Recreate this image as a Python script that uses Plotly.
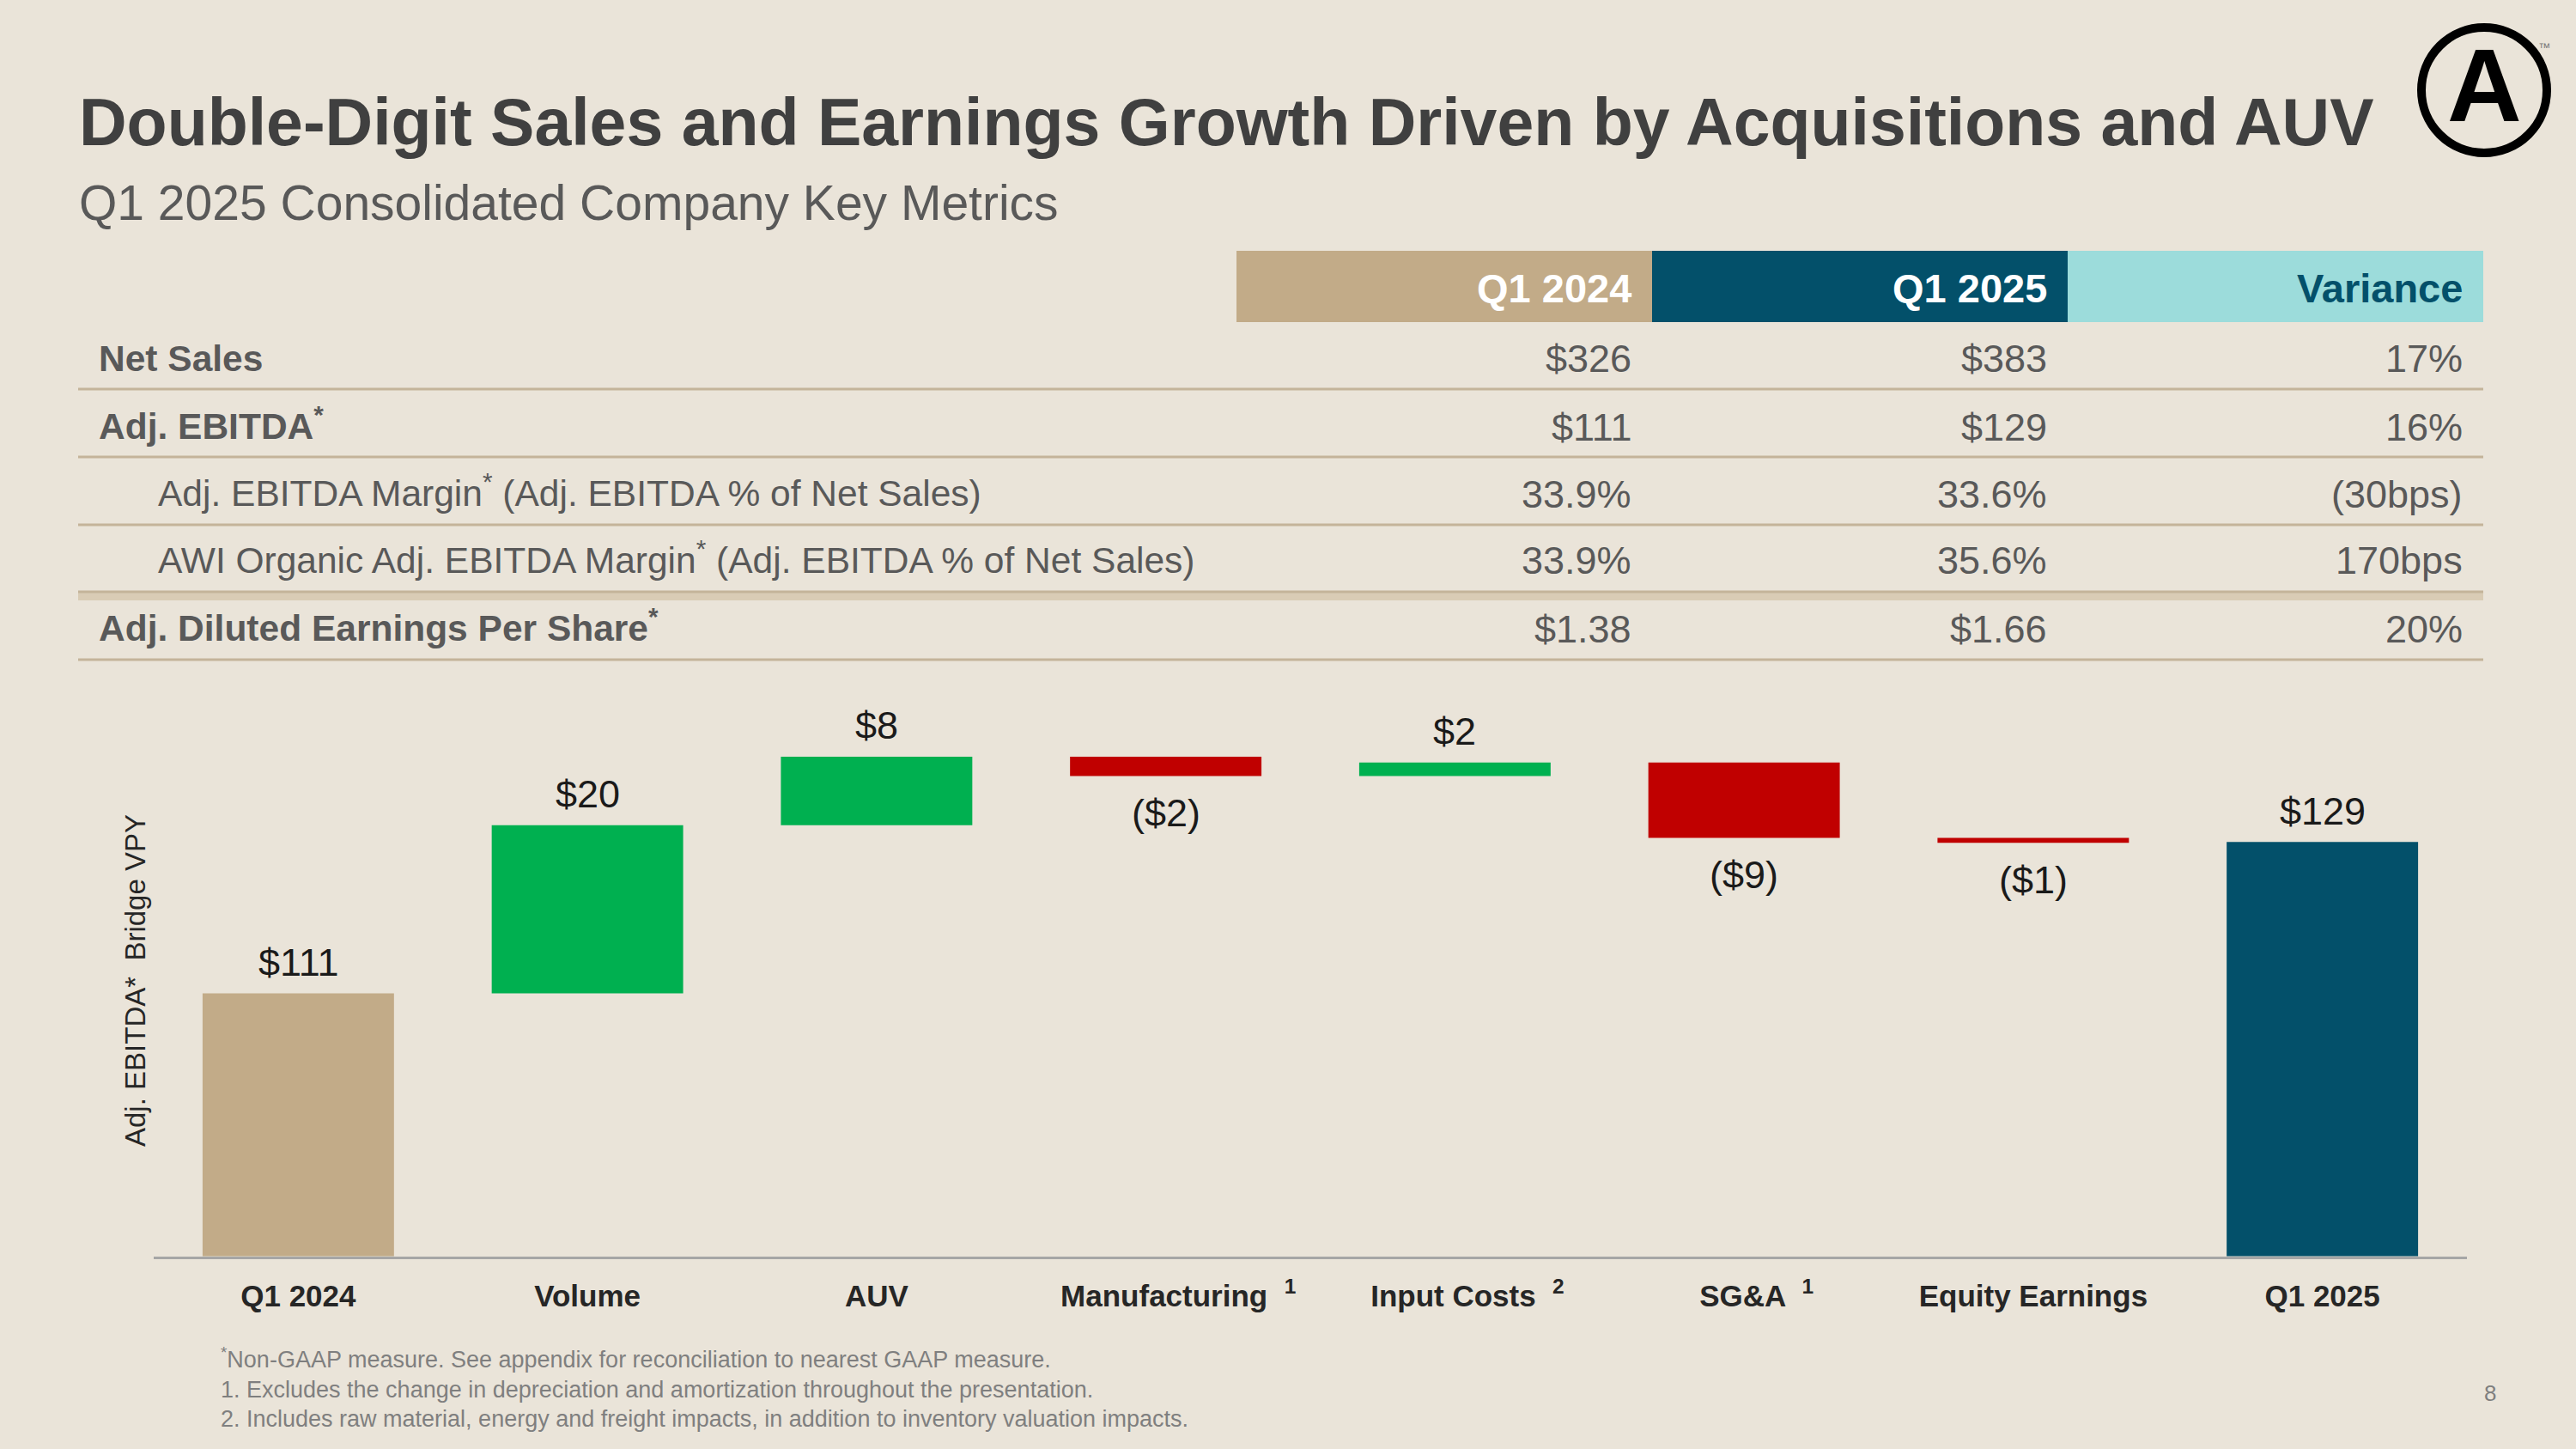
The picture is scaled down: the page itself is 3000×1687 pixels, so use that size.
import plotly.graph_objects as go

W, H = 3000, 1687
BG = "#EAE4D9"
FONT = "Liberation Sans, Arial, sans-serif"

# ---- bridge data (Adj. EBITDA, $M) ----
categories = ["Q1 2024", "Volume", "AUV", "Manufacturing", "Input Costs",
              "SG&A", "Equity Earnings", "Q1 2025"]
footnote_marks = ["", "", "", "1", "2", "1", "", ""]
start_value = 111.1
deltas = [19.9, 8.1, -2.3, 1.6, -8.9, -0.6]
end_value = 129.0

# ---- key metrics table ----
col_headers = ["Q1 2024", "Q1 2025", "Variance"]
row_labels = ["Net Sales", "Adj. EBITDA<sup>*</sup>",
              "Adj. EBITDA Margin<sup>*</sup> (Adj. EBITDA % of Net Sales)",
              "AWI Organic Adj. EBITDA Margin<sup>*</sup> (Adj. EBITDA % of Net Sales)",
              "Adj. Diluted Earnings Per Share<sup>*</sup>"]
q1_2024_vals = ["$326", "$111", "33.9%", "33.9%", "$1.38"]
q1_2025_vals = ["$383", "$129", "33.6%", "35.6%", "$1.66"]
variance_vals = ["17%", "16%", "(30bps)", "170bps", "20%"]

footnotes = [
    "<sup>*</sup>Non-GAAP measure. See appendix for reconciliation to nearest GAAP measure.",
    "1. Excludes the change in depreciation and amortization throughout the presentation.",
    "2. Includes raw material, energy and freight impacts, in addition to inventory valuation impacts.",
]

TAN = "#C2AB88"
TEAL = "#03506A"
LTEAL = "#9CDCDB"
GREEN = "#00B050"
RED = "#C00000"
TXT = "#595959"
LINE = "#C4B49A"


def px(x):
    return x / W


def py(y):
    return 1 - y / H


def money(v):
    r = int(round(abs(v)))
    return f"(${r})" if v < 0 else f"${r}"


def label(x, y, text, size, color, xanchor="center", yanchor="middle", **kw):
    return dict(x=px(x), y=py(y), xref="paper", yref="paper", xanchor=xanchor,
                yanchor=yanchor, text=text, showarrow=False,
                font=dict(family=FONT, size=size, color=color), **kw)


# bar geometry from the data
bases, heights, colors = [0], [start_value], [TAN]
level = start_value
for d in deltas:
    bases.append(level)
    heights.append(d)
    colors.append(GREEN if d >= 0 else RED)
    level += d
bases.append(0)
heights.append(end_value)
colors.append(TEAL)

# footnote mark after the name; leading spaces keep the name itself centred
ticktext = []
for c, m in zip(categories, footnote_marks):
    if m:
        ticktext.append(f"&nbsp;&nbsp;&nbsp;{c}  <sup>{m}</sup>")
    else:
        ticktext.append(c)

fig = go.Figure()
fig.add_trace(go.Bar(
    x=categories, y=heights, base=bases,
    marker=dict(color=colors, line=dict(width=0)),
    hoverinfo="skip", showlegend=False,
))

ann = []
# value labels: above rising/total bars, below falling ones
for c, b, h in zip(categories, bases, heights):
    ann.append(dict(x=c, y=b + h, xref="x", yref="y", xanchor="center", yanchor="middle",
                    yshift=36 if h >= 0 else -43, text=money(h), showarrow=False,
                    font=dict(family=FONT, size=45, color="#1A1A1A")))

# y title
ann.append(label(157, 1142, "Adj. EBITDA*  Bridge VPY", 33, "#262626", textangle=-90))

# title / subtitle
ann.append(label(90, 142, "<b>Double-Digit Sales and Earnings Growth Driven by Acquisitions and AUV</b>",
                 77, "#404040", xanchor="left"))
ann.append(label(90, 236, "Q1 2025 Consolidated Company Key Metrics", 57, TXT, xanchor="left"))

shapes = []
# table header
col_edges = [1440, 1924, 2408, 2892]
head_fill = [TAN, TEAL, LTEAL]
head_txt = ["white", "white", TEAL]
for i, h in enumerate(col_headers):
    shapes.append(dict(type="rect", xref="paper", yref="paper",
                       x0=px(col_edges[i]), x1=px(col_edges[i + 1]), y0=py(375), y1=py(292),
                       fillcolor=head_fill[i], line=dict(width=0), layer="below"))
    ann.append(label(col_edges[i + 1] - 22, 336, f"<b>{h}</b>", 47, head_txt[i], xanchor="right"))

# table rows
row_mid = [417, 497, 575, 653, 732]
for y in [453, 532, 611, 768]:
    shapes.append(dict(type="line", xref="paper", yref="paper", x0=px(91), x1=px(2892),
                       y0=py(y), y1=py(y), line=dict(color=LINE, width=3)))
shapes.append(dict(type="rect", xref="paper", yref="paper", x0=px(91), x1=px(2892),
                   y0=py(699), y1=py(688), fillcolor="#D9CCB5", line=dict(width=0)))
shapes.append(dict(type="line", xref="paper", yref="paper", x0=px(91), x1=px(2892),
                   y0=py(689), y1=py(689), line=dict(color=LINE, width=3)))

for i, lab in enumerate(row_labels):
    indent = i in (2, 3)
    lift = 4 if "<sup>" in lab else 0
    ann.append(label(182 if indent else 113, row_mid[i] - lift,
                     lab if indent else f"<b>{lab}</b>", 42.5, TXT, xanchor="left"))
    for j, vals in enumerate([q1_2024_vals, q1_2025_vals, variance_vals]):
        ann.append(label(col_edges[j + 1] - 22, row_mid[i], vals[i], 45, TXT, xanchor="right"))

# footnotes
for i, t in enumerate(footnotes):
    ann.append(label(255, 1584 + 34 * i - (3 if "<sup>" in t else 0), t, 27, "#7F7F7F",
                     xanchor="left"))
ann.append(label(2900, 1622, "8", 26, "#7F7F7F"))

# logo
shapes.append(dict(type="circle", xref="paper", yref="paper",
                   x0=px(2893 - 73), x1=px(2893 + 73), y0=py(105 + 73), y1=py(105 - 73),
                   line=dict(color="black", width=10)))
ann.append(label(2893, 99, "<b>A</b>", 120, "black"))
ann.append(label(2963, 55, "™", 14, "#777777"))

fig.update_layout(
    width=W, height=H,
    margin=dict(l=0, r=0, t=0, b=0),
    paper_bgcolor=BG, plot_bgcolor=BG,
    bargap=0.338,
    annotations=ann, shapes=shapes,
    xaxis=dict(domain=[px(179), px(2873)], tickvals=categories, ticktext=ticktext,
               showline=True, linecolor="#A6A6A6", linewidth=3,
               ticks="outside", ticklen=13, tickcolor="rgba(0,0,0,0)",
               tickfont=dict(family=FONT, size=35, color="#262626", weight="bold"),
               showgrid=False, zeroline=False, fixedrange=True),
    yaxis=dict(domain=[py(1462.5), py(822.9)], range=[80, 145], visible=False,
               fixedrange=True),
)

fig.write_html("out.html", config={"displayModeBar": False},
               post_script="document.body.style.margin='0';document.body.style.overflow='hidden';")
